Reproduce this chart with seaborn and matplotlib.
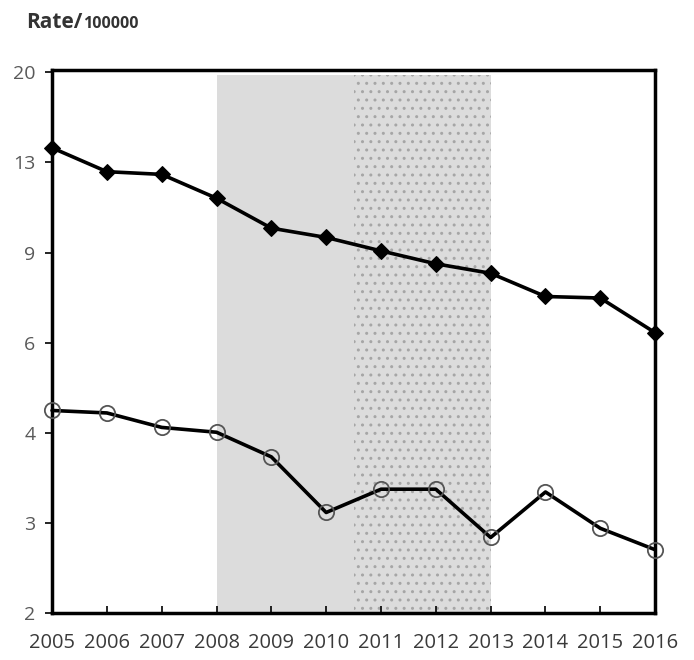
import numpy as np
import pandas as pd
import matplotlib
matplotlib.use("Agg")
import matplotlib.pyplot as plt
import seaborn as sns
from matplotlib.transforms import offset_copy

# Data
years = [2005, 2006, 2007, 2008, 2009, 2010, 2011, 2012, 2013, 2014, 2015, 2016]
upper_rate = [14.5, 13.1, 12.95, 11.7, 10.3, 9.9, 9.35, 8.85, 8.5, 7.7, 7.65, 6.6]
lower_rate = [4.74, 4.69, 4.41, 4.32, 3.89, 3.07, 3.39, 3.39, 2.76, 3.35, 2.87, 2.62]

# y axis is log-like with evenly spaced ticks
ytick_labels = ["2", "3", "4", "6", "9", "13", "20"]
ytick_values = [2 * 10 ** (k / 6) for k in range(7)]

shade_span = (2008, 2013)
dots_span = (2010.5, 2013)

sns.set_style("white")
plt.rcParams["font.family"] = ["Open Sans", "DejaVu Sans"]
plt.rcParams["hatch.linewidth"] = 1.0

fig = plt.figure(figsize=(6.94, 6.6), dpi=100)
ax = fig.add_axes([0.075, 0.071, 0.869, 0.823])

df = pd.DataFrame({"year": years, "upper": upper_rate, "lower": lower_rate})

ax.set_yscale("log")
ax.set_ylim(2, 20.2)
ax.set_xlim(years[0], years[-1])

# shaded periods
ax.axvspan(*shade_span, ymin=0, ymax=0.99, facecolor="#dcdcdc", linewidth=0, zorder=0)
ax.axvspan(*dots_span, ymin=0, ymax=0.99, facecolor="none", edgecolor="#a6a6a6",
           hatch="..", linewidth=0, zorder=0.5)

sns.lineplot(data=df, x="year", y="upper", ax=ax, color="black", linewidth=2.6,
             marker="D", markersize=8, markeredgecolor="black", clip_on=False, zorder=3)
sns.lineplot(data=df, x="year", y="lower", ax=ax, color="black", linewidth=2.6,
             marker="o", markersize=11, markerfacecolor="none", markeredgecolor="#555555",
             markeredgewidth=1.3, clip_on=False, zorder=3)

ax.set_yticks(ytick_values)
ax.set_yticklabels(ytick_labels)
ax.yaxis.set_minor_locator(matplotlib.ticker.NullLocator())
ax.set_xticks(years)
ax.set_xticklabels([str(y) for y in years])

ax.tick_params(axis="y", direction="out", length=5, width=1.2, color="black",
               labelsize=14, labelcolor="#595959", pad=7, left=True)
ax.tick_params(axis="x", direction="in", length=5, width=1.2, color="black",
               labelsize=14.5, labelcolor="#3a3a3a", pad=14, bottom=True)

for side in ["left", "right", "top", "bottom"]:
    ax.spines[side].set_visible(True)
    ax.spines[side].set_color("black")
    ax.spines[side].set_linewidth(2.5)

ax.set_xlabel("")
ax.set_ylabel("")

t1 = fig.text(0.038, 0.958, "Rate/", fontsize=15, fontweight="bold", color="#333333",
              va="baseline", ha="left")
fig.canvas.draw()
w = t1.get_window_extent().width
fig.text(0.038, 0.958, "100000", fontsize=11.5, fontweight="bold", color="#333333",
         va="baseline", ha="left",
         transform=offset_copy(fig.transFigure, fig=fig, x=w, y=0, units="dots"))

plt.savefig("out.png", dpi=100)
